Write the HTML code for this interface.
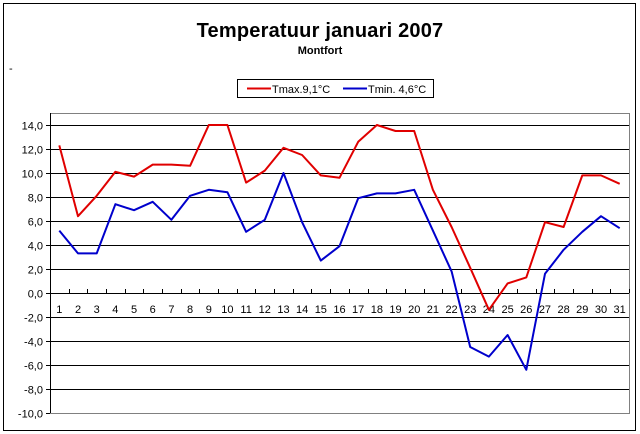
<!DOCTYPE html>
<html><head><meta charset="utf-8"><style>
html,body{margin:0;padding:0;background:#fff}
svg{display:block;font-family:"Liberation Sans",Arial,sans-serif}
</style></head><body>
<svg id="c" width="640" height="434" viewBox="0 0 640 434" xmlns="http://www.w3.org/2000/svg">
<rect x="0" y="0" width="640" height="434" fill="#fff"/>
<rect x="3.5" y="3.5" width="632" height="427" fill="none" stroke="#000" stroke-width="1"/>
<text x="320" y="37" font-size="20" font-weight="bold" text-anchor="middle" letter-spacing="0.2">Temperatuur januari 2007</text>
<text x="320" y="54" font-size="11" font-weight="bold" text-anchor="middle">Montfort</text>
<text x="9" y="72" font-size="11">-</text>
<rect x="237.5" y="79.5" width="196" height="18" fill="#fff" stroke="#000"/>
<line x1="247" y1="88.5" x2="271" y2="88.5" stroke="#e00000" stroke-width="2"/>
<text x="272" y="93" font-size="11">Tmax.9,1°C</text>
<line x1="343" y1="88.5" x2="367" y2="88.5" stroke="#0000cc" stroke-width="2"/>
<text x="368" y="93" font-size="11">Tmin. 4,6°C</text>
<g id="g"></g>
</svg>
<script>
var g=document.getElementById('g'),s='';
var L=50,R=629,T=113,B=413;
function y(v){return 293-v*12;}
for(var v=14;v>=-8;v-=2){s+='<line x1="'+L+'" y1="'+(y(v)+.5)+'" x2="'+R+'" y2="'+(y(v)+.5)+'" stroke="#000"/>';}
s+='<rect x="'+(L+.5)+'" y="'+(T+.5)+'" width="'+(R-L)+'" height="'+(B-T)+'" fill="none" stroke="#808080"/>';
s+='<line x1="'+(L+.5)+'" y1="'+T+'" x2="'+(L+.5)+'" y2="'+B+'" stroke="#000"/>';
for(var v=14;v>=-10;v-=2){s+='<line x1="'+(L-4)+'" y1="'+(y(v)+.5)+'" x2="'+L+'" y2="'+(y(v)+.5)+'" stroke="#000"/>';
s+='<text x="'+(L-7)+'" y="'+(y(v)+4.5)+'" font-size="11" text-anchor="end">'+v.toFixed(1).replace('.',',')+'</text>';}
var w=(R-L)/31;
for(var i=0;i<=31;i++){var x=Math.round(L+i*w)+.5;s+='<line x1="'+x+'" y1="289" x2="'+x+'" y2="293" stroke="#000"/>';}
for(var i=0;i<31;i++){s+='<text x="'+(L+(i+.5)*w)+'" y="313" font-size="11" text-anchor="middle">'+(i+1)+'</text>';}
var mx=[12.3,6.4,8.1,10.1,9.7,10.7,10.7,10.6,14.0,14.0,9.2,10.2,12.1,11.5,9.8,9.6,12.6,14.0,13.5,13.5,8.6,5.5,2.1,-1.4,0.8,1.3,5.9,5.5,9.8,9.8,9.1];
var mn=[5.2,3.3,3.3,7.4,6.9,7.6,6.1,8.1,8.6,8.4,5.1,6.1,10.0,5.9,2.7,3.9,7.9,8.3,8.3,8.6,5.2,1.8,-4.5,-5.3,-3.5,-6.4,1.6,3.6,5.1,6.4,5.4];
function pl(d,c){var p=d.map(function(v,i){return (L+(i+.5)*w).toFixed(1)+','+y(v).toFixed(1)}).join(' ');
return '<polyline points="'+p+'" fill="none" stroke="'+c+'" stroke-width="2" stroke-linejoin="round"/>';}
s+=pl(mx,'#e00000')+pl(mn,'#0000cc');
g.innerHTML=s;
</script>
</body></html>
